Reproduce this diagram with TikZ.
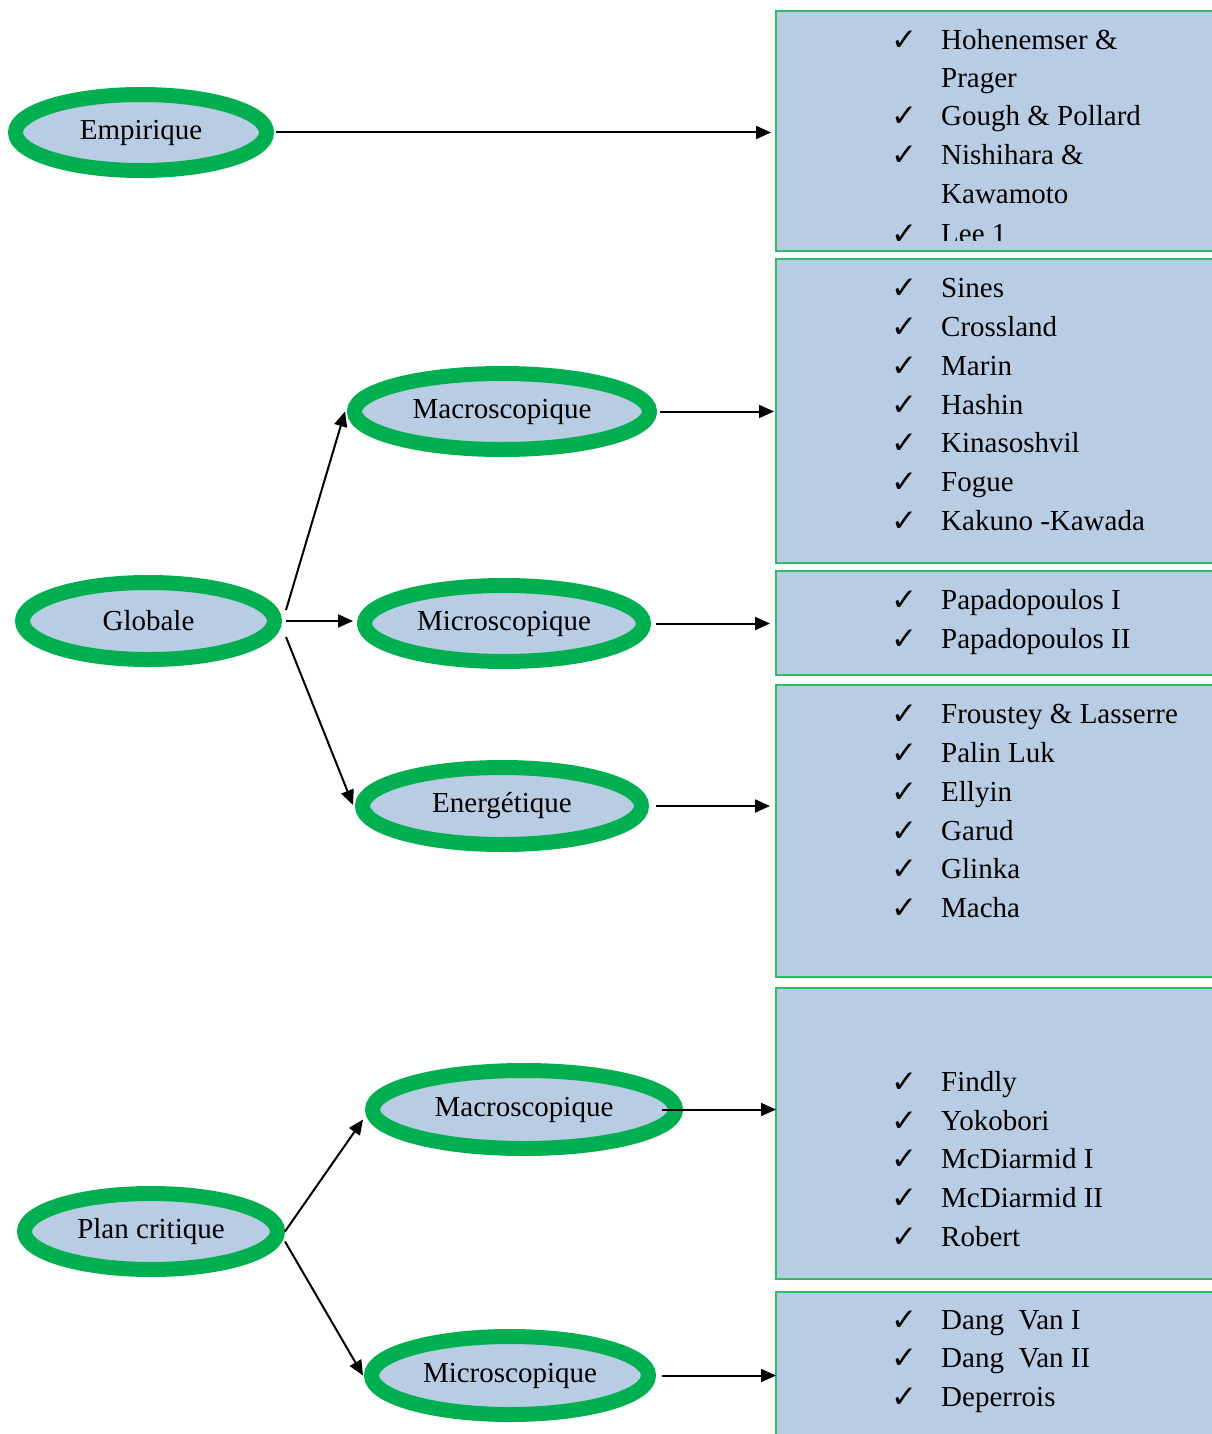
\documentclass[tikz,border=0pt]{standalone}
\usepackage{fontspec}
\setmainfont{Liberation Serif}
\newfontfamily\chkfont{DejaVu Sans}
\usetikzlibrary{shapes.geometric,arrows.meta}
\definecolor{ogreen}{HTML}{00B050}
\definecolor{bgreen}{HTML}{2DBE64}
\definecolor{lblue}{HTML}{B8CCE4}
\tikzset{
  oval/.style={ellipse, draw=ogreen, line width=15pt, fill=lblue, inner sep=0pt,
    font=\fontsize{29}{35}\selectfont},
  listbox/.style={rectangle, draw=bgreen, line width=2pt, fill=lblue, anchor=north west,
    inner sep=0pt, outer sep=0pt},
  itemtxt/.style={anchor=base west, inner sep=0pt, font=\fontsize{29}{35}\selectfont},
  tick/.style={anchor=base, inner sep=0pt, font=\chkfont\fontsize{31}{36}\selectfont},
  arr/.style={line width=2pt, -{Triangle[length=15pt,width=13pt]}}
}
\newcommand{\itm}[3]{\node[tick] (#1t) at (904,#2+1) {✓};\node[itemtxt] (#1) at (941,#2) {#3};}
\begin{document}
\begin{tikzpicture}[x=1pt,y=-1pt]
\useasboundingbox (0,0) rectangle (1211,1434);
% boxes
\node[listbox, minimum width=440pt, minimum height=240pt] (b1) at (776,11) {};
\node[listbox, minimum width=440pt, minimum height=304pt] (b2) at (776,259) {};
\node[listbox, minimum width=440pt, minimum height=104pt] (b3) at (776,571) {};
\node[listbox, minimum width=440pt, minimum height=292pt] (b4) at (776,685) {};
\node[listbox, minimum width=440pt, minimum height=291pt] (b5) at (776,988) {};
\node[listbox, minimum width=440pt, minimum height=160pt] (b6) at (776,1292) {};
% box texts
\begin{scope}
\clip (776,0) rectangle (1211,240);
\itm{a1}{49.5}{Hohenemser \&}
\node[itemtxt] (a1b) at (941,87.5) {Prager};
\itm{a2}{126}{Gough \& Pollard}
\itm{a3}{165}{Nishihara \&}
\node[itemtxt] (a3b) at (941,203.5) {Kawamoto};
\itm{a4}{243.5}{Lee 1}
\end{scope}
\itm{c1}{297}{Sines}
\itm{c2}{336}{Crossland}
\itm{c3}{375}{Marin}
\itm{c4}{414}{Hashin}
\itm{c5}{452}{Kinasoshvil}
\itm{c6}{491}{Fogue}
\itm{c7}{530}{Kakuno -Kawada}
\itm{d1}{609}{Papadopoulos I}
\itm{d2}{648}{Papadopoulos II}
\itm{e1}{723}{Froustey \& Lasserre}
\itm{e2}{762}{Palin Luk}
\itm{e3}{801}{Ellyin}
\itm{e4}{840}{Garud}
\itm{e5}{878}{Glinka}
\itm{e6}{917}{Macha}
\itm{f1}{1091}{Findly}
\itm{f2}{1130}{Yokobori}
\itm{f3}{1168.5}{McDiarmid I}
\itm{f4}{1207}{McDiarmid II}
\itm{f5}{1246}{Robert}
\itm{g1}{1329.5}{Dang\ \ Van I}
\itm{g2}{1367.5}{Dang\ \ Van II}
\itm{g3}{1406}{Deperrois}
% ellipses
\node[oval, minimum width=251pt, minimum height=76pt] (emp) at (141,132.5) {Empirique};
\node[oval, minimum width=295pt, minimum height=76pt] (macA) at (502,411.5) {Macroscopique};
\node[oval, minimum width=252pt, minimum height=77pt] (glob) at (148.5,621) {Globale};
\node[oval, minimum width=279pt, minimum height=76pt] (micA) at (504,623.5) {Microscopique};
\node[oval, minimum width=279pt, minimum height=77pt] (en) at (502,806) {Energétique};
\node[oval, minimum width=253pt, minimum height=76pt] (plan) at (151,1231.5) {Plan critique};
\node[oval, minimum width=303pt, minimum height=78pt] (macB) at (524,1109.5) {Macroscopique};
\node[oval, minimum width=277pt, minimum height=78pt] (micB) at (510,1375.5) {Microscopique};
% arrows to boxes
\draw[arr, shorten <=2pt, shorten >=5pt] (emp.east) -- (emp.east -| b1.west);
\draw[arr, shorten <=3pt, shorten >=2pt] (macA.east) -- (macA.east -| b2.west);
\draw[arr, shorten <=5pt, shorten >=6pt] (micA.east) -- (micA.east -| b3.west);
\draw[arr, shorten <=7pt, shorten >=6pt] (en.east) -- (en.east -| b4.west);
\draw[arr] ([shift={(-21,0)}]macB.east) -- (macB.east -| b5.west);
\draw[arr, shorten <=6pt] (micB.east) -- (micB.east -| b6.west);
% branching arrows
\draw[arr] ([shift={(4,-11)}]glob.east) -- ([shift={(-2,0)}]macA.west);
\draw[arr, shorten >=4pt] ([shift={(4,0)}]glob.east) -- (glob.east -| micA.west);
\draw[arr] ([shift={(4,16)}]glob.east) -- ([shift={(-2,-1)}]en.west);
\draw[arr] (plan.east) -- ([shift={(-2,10)}]macB.west);
\draw[arr] ([shift={(0,10)}]plan.east) -- ([shift={(-1,0)}]micB.west);
\end{tikzpicture}
\end{document}
